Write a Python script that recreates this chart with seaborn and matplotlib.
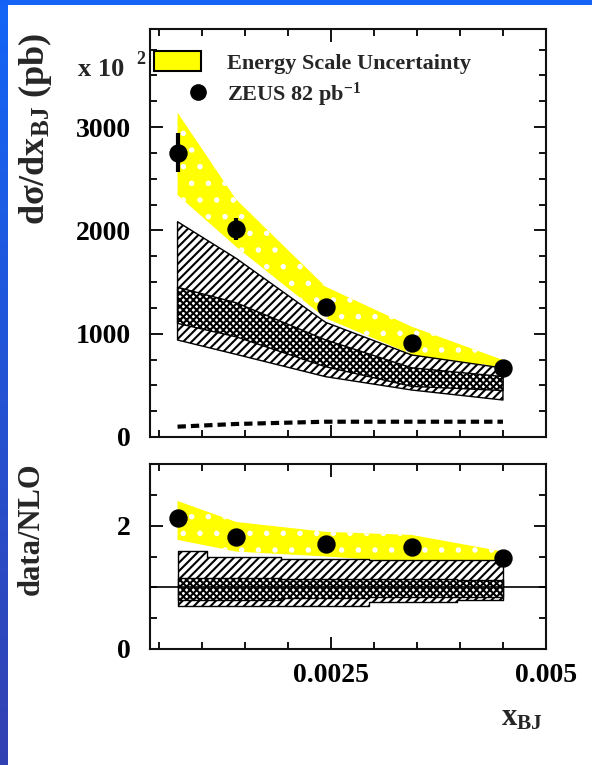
import numpy as np
import pandas as pd
import matplotlib
matplotlib.use("Agg")
import matplotlib.pyplot as plt
import seaborn as sns
from matplotlib.patches import Patch
from matplotlib.lines import Line2D
from matplotlib.legend_handler import HandlerLine2D
from matplotlib.ticker import MultipleLocator, FixedLocator
from matplotlib.colors import LinearSegmentedColormap

# ---------------- data ----------------
x_bj = [0.00072, 0.0014, 0.00244, 0.00344, 0.0045]

xsec = [2752, 2013, 1261, 913, 671]
xsec_err = [190, 107, 45, 35, 30]
escale_up = [3140, 2300, 1455, 1068, 745]
escale_lo = [2343, 1842, 1150, 800, 600]
nlo_up = [2084, 1730, 1110, 794, 668]
nlo_lo = [939, 800, 584, 455, 358]
inner_up = [1450, 1300, 940, 670, 585]
inner_lo = [1100, 970, 680, 490, 450]
lo_dash = [100, 126, 148, 148, 148]

ratio = [2.12, 1.81, 1.71, 1.65, 1.47]
ratio_err = [0.12, 0.06, 0.04, 0.04, 0.04]
r_escale_up = [2.40, 2.06, 1.90, 1.85, 1.58]
r_escale_lo = [1.77, 1.58, 1.50, 1.41, 1.25]
r_nlo_up = [1.59, 1.50, 1.46, 1.44, 1.44]
r_nlo_lo = [0.69, 0.69, 0.69, 0.77, 0.79]
r_inner_up = [1.15, 1.15, 1.13, 1.13, 1.12]
r_inner_lo = [0.80, 0.80, 0.82, 0.84, 0.84]

top_yticks = [0, 1000, 2000, 3000]
bot_yticks = [0, 2]
xticks = [0.0025, 0.005]
xtick_labels = ["0.0025", "0.005"]

# ---------------- style ----------------
sns.set_theme(style="ticks")
plt.rcParams["font.family"] = ["Liberation Serif", "DejaVu Serif"]
plt.rcParams["font.weight"] = "bold"
plt.rcParams["mathtext.fontset"] = "custom"
plt.rcParams["mathtext.rm"] = "Liberation Serif:bold"
plt.rcParams["mathtext.it"] = "Liberation Serif:bold"
plt.rcParams["mathtext.bf"] = "Liberation Serif:bold"
plt.rcParams["hatch.linewidth"] = 1.5

YELLOW = "#ffff00"

df = pd.DataFrame({"x": x_bj, "xsec": xsec, "lo": lo_dash, "ratio": ratio})

fig = plt.figure(figsize=(5.92, 7.65), dpi=100)
fig.patch.set_facecolor("white")

W, H = 592.0, 765.0
def box(l, t, r, b):
    return [l / W, 1 - b / H, (r - l) / W, (b - t) / H]

ax1 = fig.add_axes(box(150, 29, 546, 437))
ax2 = fig.add_axes(box(150, 464, 546, 649))

# blue frame
axl = fig.add_axes([0, 0, 8 / W, 1])
grad = np.linspace(0, 1, 256).reshape(-1, 1)
cm = LinearSegmentedColormap.from_list("b", ["#1465f7", "#3341b2"])
axl.imshow(grad, aspect="auto", cmap=cm)
axl.axis("off")
axt = fig.add_axes([0, 1 - 5 / H, 1, 5 / H])
axt.set_facecolor("#1463f6")
axt.set_xticks([]); axt.set_yticks([])
for s in axt.spines.values():
    s.set_visible(False)

# ---------------- top panel ----------------
ax1.fill_between(x_bj, escale_lo, escale_up, facecolor=YELLOW, edgecolor="white",
                 linewidth=0, hatch=".", zorder=1)
ax1.fill_between(x_bj, nlo_lo, nlo_up, facecolor="white", edgecolor="black",
                 linewidth=1.0, hatch="////", zorder=2)
ax1.fill_between(x_bj, inner_lo, inner_up, facecolor="white", edgecolor="black",
                 linewidth=1.0, hatch="xxxxx", zorder=3)
sns.lineplot(data=df, x="x", y="lo", ax=ax1, color="black", linewidth=3.0,
             dashes=(2.0, 1.2), zorder=4, legend=False)
ax1.errorbar(x_bj, xsec, yerr=xsec_err, fmt="none", ecolor="black",
             elinewidth=3.0, capsize=0, zorder=5)
sns.scatterplot(data=df, x="x", y="xsec", ax=ax1, color="black", s=150,
                edgecolor="black", zorder=6, legend=False)

ax1.set_xlim(0.0004, 0.005)
ax1.set_ylim(0, 3950)
ax1.yaxis.set_major_locator(FixedLocator(top_yticks))
ax1.yaxis.set_minor_locator(MultipleLocator(250))
ax1.xaxis.set_major_locator(FixedLocator(xticks))
ax1.xaxis.set_minor_locator(MultipleLocator(0.0005))
ax1.set_xticklabels([])
ax1.set_xlabel(""); ax1.set_ylabel("")


class RightMarkerHandler(HandlerLine2D):
    def create_artists(self, legend, orig_handle, xdescent, ydescent, width,
                       height, fontsize, trans):
        arts = super().create_artists(legend, orig_handle, xdescent, ydescent,
                                      width, height, fontsize, trans)
        for a in arts:
            n = len(a.get_xdata())
            a.set_xdata(np.full(n, width - xdescent - 0.05 * width))
        return arts


marker_handle = Line2D([], [], marker="o", color="black", ls="none", markersize=11)
handles = [Patch(facecolor=YELLOW, edgecolor="black", linewidth=1.5), marker_handle]
ax1.legend(handles, ["Energy Scale Uncertainty", "ZEUS 82 pb$^{-1}$"],
           loc="upper left", bbox_to_anchor=(0.01, 0.945), frameon=False,
           borderpad=0, borderaxespad=0, handlelength=2.1, handleheight=1.0,
           handletextpad=1.2, labelspacing=0.3,
           handler_map={marker_handle: RightMarkerHandler()},
           prop={"family": "Liberation Serif", "weight": "bold", "size": 16})

# ---------------- bottom panel ----------------
ax2.fill_between(x_bj, r_escale_lo, r_escale_up, facecolor=YELLOW, edgecolor="white",
                 linewidth=0, hatch=".", zorder=1)
ax2.fill_between(x_bj, r_nlo_lo, r_nlo_up, step="mid", facecolor="white",
                 edgecolor="black", linewidth=1.0, hatch="////", zorder=2)
ax2.fill_between(x_bj, r_inner_lo, r_inner_up, step="mid", facecolor="white",
                 edgecolor="black", linewidth=1.0, hatch="xxxxx", zorder=3)
ax2.axhline(1.0, color="black", linewidth=1.2, zorder=4)
ax2.errorbar(x_bj, ratio, yerr=ratio_err, fmt="none", ecolor="black",
             elinewidth=3.0, capsize=0, zorder=5)
sns.scatterplot(data=df, x="x", y="ratio", ax=ax2, color="black", s=150,
                edgecolor="black", zorder=6, legend=False)

ax2.set_xlim(0.0004, 0.005)
ax2.set_ylim(0, 3)
ax2.yaxis.set_major_locator(FixedLocator(bot_yticks))
ax2.yaxis.set_minor_locator(MultipleLocator(0.5))
ax2.xaxis.set_major_locator(FixedLocator(xticks))
ax2.xaxis.set_minor_locator(MultipleLocator(0.0005))
ax2.set_xticklabels(xtick_labels)
ax2.set_xlabel(""); ax2.set_ylabel("")

for ax in (ax1, ax2):
    for s in ax.spines.values():
        s.set_visible(True)
        s.set_linewidth(1.5)
        s.set_color("#111111")
    ax.tick_params(which="both", direction="in", top=True, right=True,
                   width=1.3, colors="black", labelsize=20)
    ax.tick_params(which="major", length=9)
    ax.tick_params(which="minor", length=5)
    ax.tick_params(axis="y", pad=14)
    ax.tick_params(axis="x", pad=10)
    for lab in ax.get_xticklabels() + ax.get_yticklabels():
        lab.set_fontweight("bold")
        lab.set_family("Liberation Serif")

# ---------------- labels ----------------
fig.text(35 / W, 1 - 129 / H, r"d$\sigma$/dx$_{\mathrm{BJ}}$ (pb)", rotation=90,
         ha="center", va="center", fontsize=26, fontweight="bold")
fig.text(31 / W, 1 - 529 / H, "data/NLO", rotation=90, ha="center", va="center",
         fontsize=22, fontweight="bold")
fig.text(101 / W, 1 - 70 / H, "x 10", ha="center", va="center", fontsize=19,
         fontweight="bold")
fig.text(141 / W, 1 - 59 / H, "2", ha="center", va="center", fontsize=13,
         fontweight="bold")
fig.text(522 / W, 1 - 718 / H, r"x$_{\mathrm{BJ}}$", ha="center", va="center",
         fontsize=22, fontweight="bold")

fig.savefig("out.png", dpi=100, facecolor="white")
